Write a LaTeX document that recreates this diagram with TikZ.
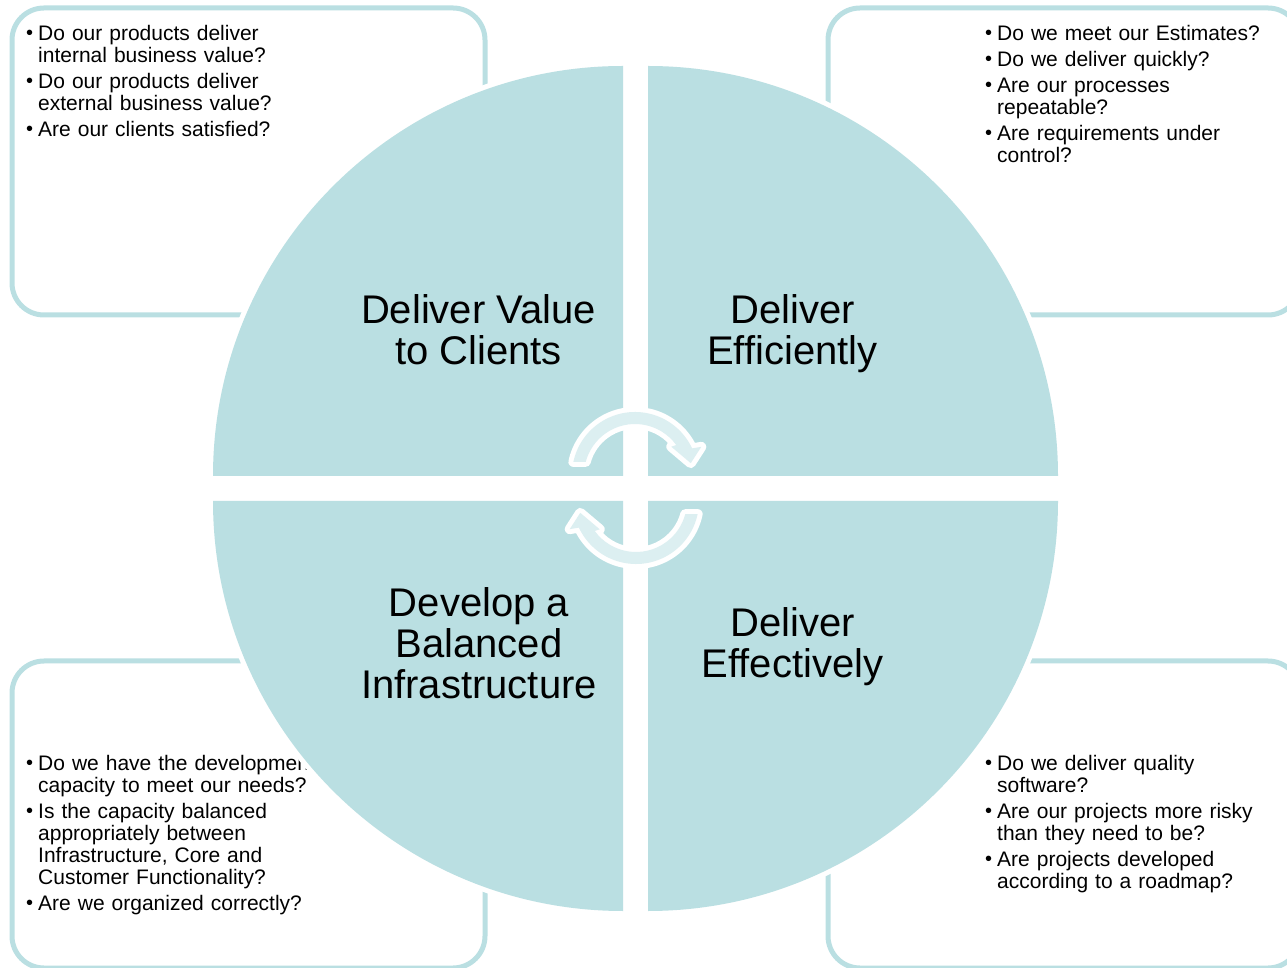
\documentclass[tikz,border=0pt]{standalone}
\usepackage{fontspec}
\setmainfont{Liberation Sans}
\newcommand{\nl}{\hfil\break}
\newcommand{\bl}[1]{\par\hangindent=12pt\hangafter=1\noindent\rule{0pt}{16pt}\makebox[12pt][l]{\raisebox{.5pt}{\fontsize{20}{20}\selectfont •}}#1\par}
\tikzset{
  boxline/.style={draw=boxc,line width=5pt,rounded corners=32pt,fill=white},
  quarter/.style={fill=teal1,preaction={draw=white,line width=10pt}},
  smalltext/.style={anchor=north west,inner sep=0pt,text width=300pt,font=\fontsize{21}{22}\selectfont,text=black},
  bigtext/.style={inner sep=0pt,align=center,font=\fontsize{40}{41.2}\selectfont,text=black},
  cyc/.style={fill=band,line join=round,preaction={draw=white,line width=10pt,line join=round}}
}
\definecolor{boxc}{HTML}{BADFE2}
\definecolor{teal1}{HTML}{BADFE2}
\definecolor{band}{HTML}{DCEFF1}
\newcommand{\cycpath}{(168:63) arc[start angle=168,end angle=25,radius=63] -- (23:72) -- (12:57) -- (38:46) -- (36:51) arc[start angle=36,end angle=165,radius=51] -- cycle}
\begin{document}
\begin{tikzpicture}[x=1pt,y=1pt]
\useasboundingbox (0,0) rectangle (1287,967);
\begin{scope}
\clip (0,0) rectangle (1287,967);
% outer boxes
\draw[boxline] (12,959) rectangle (485,652);
\draw[boxline] (828,959) rectangle (1300,652);
\draw[boxline] (12,306) rectangle (485,-1);
\draw[boxline] (828,306) rectangle (1300,-1);
% questions
\node[smalltext] (qa) at (26,953) {\setlength{\parskip}{4pt}%
\bl{Do our products deliver\nl internal business value?}
\bl{Do our products deliver\nl external business value?}
\bl{Are our clients satisfied?}};
\node[smalltext] (qb) at (985,953) {\setlength{\parskip}{4pt}%
\bl{Do we meet our Estimates?}
\bl{Do we deliver quickly?}
\bl{Are our processes\nl repeatable?}
\bl{Are requirements under\nl control?}};
\node[smalltext] (qc) at (26,223) {\setlength{\parskip}{4pt}%
\bl{Do we have the development\nl capacity to meet our needs?}
\bl{Is the capacity balanced\nl appropriately between\nl Infrastructure, Core and\nl Customer Functionality?}
\bl{Are we organized correctly?}};
\node[smalltext] (qd) at (985,223) {\setlength{\parskip}{4pt}%
\bl{Do we deliver quality\nl software?}
\bl{Are our projects more risky\nl than they need to be?}
\bl{Are projects developed\nl according to a roadmap?}};
% quarters
\path[quarter] (623,491) -- ++(-410,0) arc[start angle=180,end angle=90,radius=410] -- cycle;
\path[quarter] (648,491) -- ++(0,410) arc[start angle=90,end angle=0,radius=410] -- cycle;
\path[quarter] (623,466) -- ++(0,-410) arc[start angle=270,end angle=180,radius=410] -- cycle;
\path[quarter] (648,466) -- ++(410,0) arc[start angle=0,end angle=-90,radius=410] -- cycle;
% titles
\node[bigtext] (ta) at (478.5,637) {Deliver Value\\to Clients};
\node[bigtext] (tb) at (792.5,633) {Deliver\\Efficiently};
\node[bigtext] (tc) at (479,323.5) {Develop a\\Balanced\\Infrastructure};
\node[bigtext] (td) at (792.5,320) {Deliver\\Effectively};
% cycle arrows
\begin{scope}[shift={(635,492)}]
\path[cyc] \cycpath;
\end{scope}
\begin{scope}[rotate around={180:(635.5,479)},shift={(635,492)}]
\path[cyc] \cycpath;
\end{scope}
\end{scope}
\end{tikzpicture}
\end{document}
